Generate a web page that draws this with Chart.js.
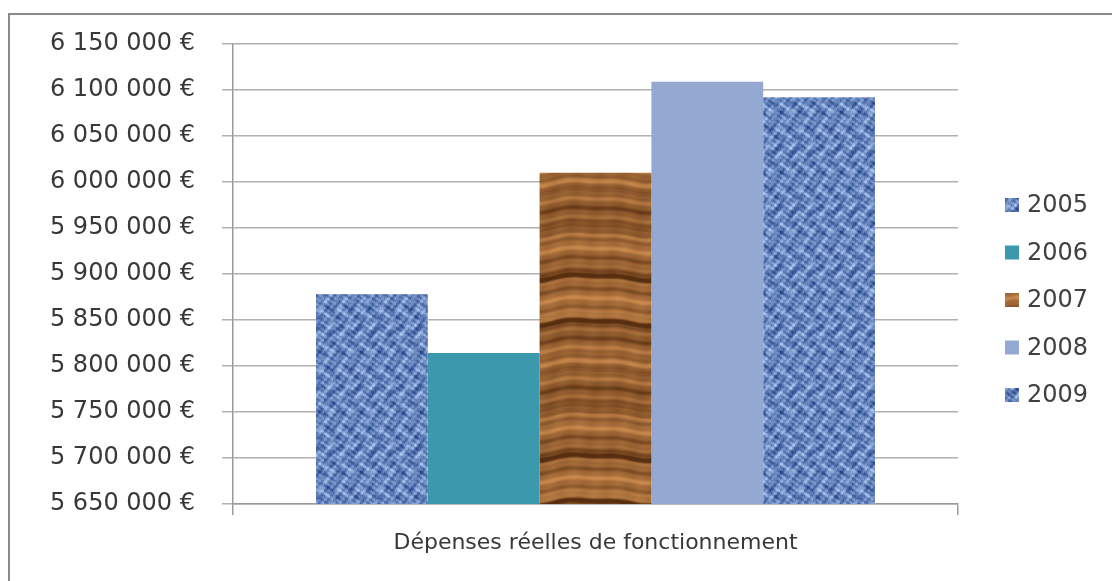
<!DOCTYPE html>
<html>
<head>
<meta charset="utf-8">
<script src="https://cdn.jsdelivr.net/npm/chart.js@4/dist/chart.umd.min.js"></script>
<style>
  html, body { margin: 0; padding: 0; background: #ffffff; }
  #wrap { position: relative; width: 1112px; height: 581px; overflow: hidden; }
  #frame { position: absolute; left: 8px; top: 13px; width: 1200px; height: 700px;
           border-top: 2px solid #8a8a8a; border-left: 2px solid #8a8a8a; }
  #c { position: absolute; left: 0; top: 0; }
</style>
</head>
<body>
<div id="wrap">
  <div id="frame"></div>
  <canvas id="c" width="1112" height="581"></canvas>
</div>
<script>
// ---- data ----
const categories = ['Dépenses réelles de fonctionnement'];
const years = ['2005', '2006', '2007', '2008', '2009'];
const values2005 = [5878000];
const values2006 = [5814000];
const values2007 = [6010000];
const values2008 = [6109000];
const values2009 = [6092000];
const yMin = 5650000;
const yMax = 6150000;
const yStep = 50000;

// ---- textures (deterministic, periodic) ----
function fabricPattern() {
  const W = 60, H = 60;
  const c = document.createElement('canvas');
  c.width = W; c.height = H;
  const g = c.getContext('2d');
  const img = g.createImageData(W, H);
  const dark = [38, 70, 138], light = [176, 202, 244];
  const P = 2 * Math.PI / W;
  for (let y = 0; y < H; y++) {
    for (let x = 0; x < W; x++) {
      const tx = Math.floor(x / 3), ty = Math.floor(y / 3);
      let t = 0.52
        + 0.16 * Math.sin(3 * P * x + 2.1 * Math.sin(2 * P * y))
        + 0.14 * Math.cos(5 * P * y + 1.7 * Math.cos(3 * P * x))
        + 0.12 * Math.sin(7 * P * x + 4 * P * y + 1)
        + 0.10 * Math.cos(11 * P * y - 6 * P * x);
      // weave cell contrast
      t += ((tx + ty) % 2 === 0) ? 0.08 : -0.08;
      if ((x % 3) === 0 || (y % 3) === 0) t -= 0.06;
      t = Math.max(0, Math.min(1, t));
      const i = (y * W + x) * 4;
      for (let k = 0; k < 3; k++) img.data[i + k] = Math.round(dark[k] + (light[k] - dark[k]) * t);
      img.data[i + 3] = 255;
    }
  }
  g.putImageData(img, 0, 0);
  return g.createPattern(c, 'repeat');
}
function woodPattern() {
  const W = 112, H = 180;
  const c = document.createElement('canvas');
  c.width = W; c.height = H;
  const g = c.getContext('2d');
  const img = g.createImageData(W, H);
  const dark = [88, 46, 16], light = [200, 136, 76];
  const PX = 2 * Math.PI / W, PY = 2 * Math.PI / H;
  for (let y = 0; y < H; y++) {
    for (let x = 0; x < W; x++) {
      const yy = y + 2.5 * Math.sin(PX * x) + 1.2 * Math.sin(2 * PX * x + 1);
      let t = 0.58 + 0.2 * Math.sin(11 * PY * yy) + 0.16 * Math.sin(3 * PY * yy + 1.3)
              + 0.08 * Math.sin(29 * PY * yy + 0.4) + 0.04 * Math.sin(5 * PX * x + PY * yy);
      const band = Math.sin(4 * PY * yy + 0.6);
      if (band > 0.9) t -= 0.4 * (band - 0.9) / 0.1;
      t = Math.max(0, Math.min(1, t));
      const i = (y * W + x) * 4;
      for (let k = 0; k < 3; k++) img.data[i + k] = Math.round(dark[k] + (light[k] - dark[k]) * t);
      img.data[i + 3] = 255;
    }
  }
  g.putImageData(img, 0, 0);
  return g.createPattern(c, 'repeat');
}
const fabric = fabricPattern();
const wood = woodPattern();
const fills = [fabric, '#3c98ad', wood, '#93a9d1', fabric];
const seriesValues = [values2005, values2006, values2007, values2008, values2009];

function fmtEuro(v) {
  return String(Math.round(v)).replace(/\B(?=(\d{3})+(?!\d))/g, ' ') + ' €';
}

const FONT = "'DejaVu Sans', sans-serif";

const legendPlugin = {
  id: 'customLegend',
  afterDraw(chart) {
    const ctx = chart.ctx;
    ctx.save();
    ctx.font = '24px ' + FONT;
    ctx.textBaseline = 'middle';
    ctx.textAlign = 'left';
    chart.data.datasets.forEach((ds, i) => {
      const cy = 205 + i * 47.5;
      ctx.fillStyle = ds.backgroundColor;
      ctx.fillRect(1005, cy - 7, 14, 14);
      ctx.fillStyle = '#404040';
      ctx.fillText(ds.label, 1027, cy + 1);
    });
    ctx.restore();
  }
};

new Chart(document.getElementById('c'), {
  type: 'bar',
  data: {
    labels: categories,
    datasets: years.map((y, i) => ({
      label: y,
      data: seriesValues[i],
      backgroundColor: fills[i],
      borderWidth: 0,
      categoryPercentage: 0.771,
      barPercentage: 1.0
    }))
  },
  options: {
    responsive: false,
    animation: false,
    devicePixelRatio: 1,
    layout: { padding: { left: 0, right: 154, top: 44, bottom: 0 } },
    plugins: {
      legend: { display: false },
      tooltip: { enabled: false }
    },
    scales: {
      x: {
        afterFit(scale) { scale.height = 77; },
        grid: { display: true, drawOnChartArea: false, offset: true, tickLength: 11, color: '#9a9a9a', lineWidth: 1.5 },
        border: { display: true, color: '#9a9a9a', width: 1.5 },
        ticks: { padding: 15, color: '#383838', font: { family: FONT, size: 22 } }
      },
      y: {
        min: yMin,
        max: yMax,
        afterFit(scale) { scale.width = 233; },
        grid: { color: '#b0b0b0', lineWidth: 1.5, tickLength: 11 },
        border: { display: true, color: '#9a9a9a', width: 1.5 },
        ticks: {
          stepSize: yStep,
          padding: 27,
          color: '#383838',
          font: { family: FONT, size: 24 },
          callback: (v) => fmtEuro(v)
        }
      }
    }
  },
  plugins: [legendPlugin]
});
</script>
</body>
</html>
